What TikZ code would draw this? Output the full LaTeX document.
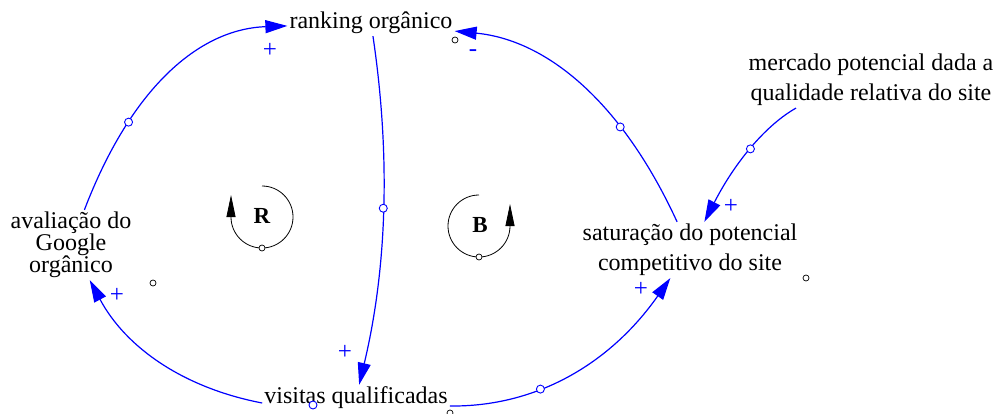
\documentclass[tikz,border=0pt]{standalone}
\usepackage{fontspec}
\setmainfont{Liberation Serif}
\usetikzlibrary{arrows.meta}

\begin{document}
\begin{tikzpicture}[x=1pt,y=-1pt,
    var/.style={align=center,inner sep=2pt,font=\fontsize{24}{30}\selectfont},
    link/.style={blue,line width=1.2pt,-{Triangle[length=22pt,width=13pt]}},
    pol/.style={blue,inner sep=0pt,font=\fontsize{25}{25}\selectfont},
    knob/.style={circle,draw=blue,fill=white,line width=0.9pt,inner sep=0pt,minimum size=8pt},
    dot/.style={circle,draw=black,fill=white,line width=0.7pt,inner sep=0pt,minimum size=6pt},
    loopline/.style={line width=0.8pt,-{Triangle[length=22pt,width=9pt]}}]
  \useasboundingbox (0,0) rectangle (998,414);
  % variables
  \node[var] (rank) at (371,23) {ranking orgânico};
  \node[var] (vis) at (356,398) {visitas qualificadas};
  \node[var,font=\fontsize{24}{22}\selectfont] (aval) at (71,245) {avaliação do\\Google\\orgânico};
  \node[var] (sat) at (690,250) {saturação do potencial\\competitivo do site};
  \node[var] (merc) at (871,80) {mercado potencial dada a\\qualidade relativa do site};
  % links
  \draw[link] (aval) .. controls (131,88) and (199,29) .. node[knob,pos=0.28] {} (rank);
  \draw[link] (sat) .. controls (622,102) and (547,40) .. node[knob,pos=0.31] {} (rank);
  \draw[link] (rank) .. controls (390,151) and (388,264) .. node[knob,pos=0.5] {} (vis);
  \draw[link] ([yshift=-5pt]vis.west) .. controls (184,388) and (126,348) .. (aval);
  \draw[link] ([yshift=-8pt]vis.east) .. controls (536,407) and (610,364) .. node[knob,pos=0.37] {} (sat);
  \draw[link] ([xshift=-75pt]merc.south) .. controls (766,125) and (735,162) .. node[knob,pos=0.5] {} (sat);
  \node[knob] (k4) at (313,405) {};
  % polarities
  \node[pol] (p1) at (270,50) {+};
  \node[pol] (p2) at (473,53) {-};
  \node[pol] (p3) at (345,352) {+};
  \node[pol] (p4) at (117,295) {+};
  \node[pol] (p5) at (641,289) {+};
  \node[pol] (p6) at (731,206) {+};
  % small markers
  \node[dot] (d1) at (455,40) {};
  \node[dot] (d2) at (153,283) {};
  \node[dot] (d3) at (806,278) {};
  \node[dot] (d4) at (450,413) {};
  % loops
  \draw[loopline] (262,186) arc[start angle=90,end angle=-180,radius=31pt] -- ++(0,-22);
  \node[dot] (lr) at (262,248) {};
  \node[font=\fontsize{23}{23}\selectfont\bfseries] (R) at (262,216) {R};
  \draw[loopline] (479,195) arc[start angle=90,end angle=360,radius=31pt] -- ++(0,-22);
  \node[dot] (lb) at (479,257) {};
  \node[font=\fontsize{23}{23}\selectfont\bfseries] (B) at (480,225) {B};
\end{tikzpicture}
\end{document}
